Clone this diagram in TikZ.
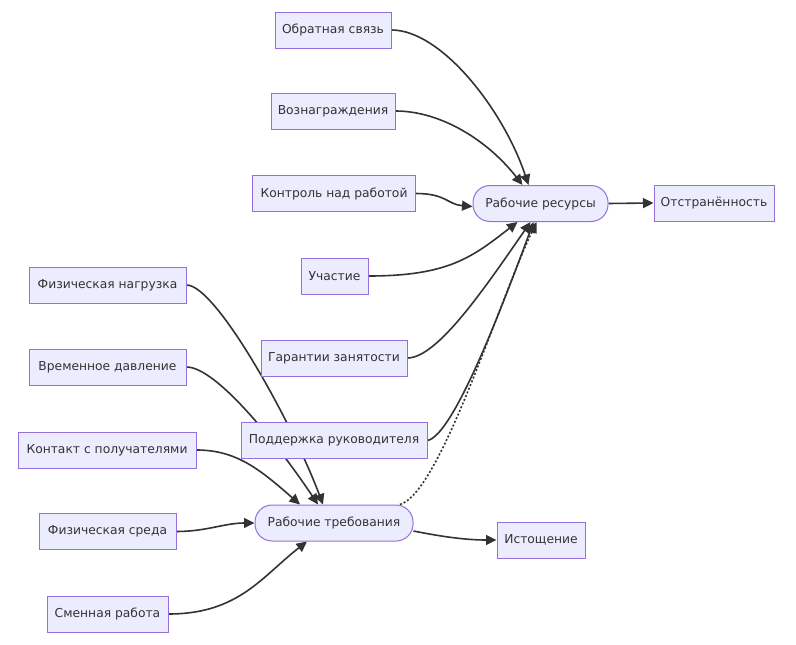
\documentclass[tikz,border=0pt]{standalone}
\usepackage{fontspec}
\setmainfont{DejaVu Sans}
\usetikzlibrary{arrows.meta,backgrounds}
\definecolor{mfill}{HTML}{ECECFF}
\definecolor{mborder}{HTML}{9370DB}
\definecolor{mtext}{HTML}{333333}
\definecolor{medge}{HTML}{333333}
\begin{document}
\begin{tikzpicture}[x=1pt,y=-1pt,
  box/.style={draw=mborder,fill=mfill,line width=1pt,minimum height=36pt,inner sep=0pt,
    font=\fontsize{12.3}{14}\selectfont,text=mtext},
  rbox/.style={box,rounded corners=17pt},
  conn/.style={draw=medge,line width=1.6pt,-{Triangle[length=10.5pt,width=10pt]}},
  dconn/.style={conn,dash pattern=on 2pt off 2pt}]
\useasboundingbox (0,0) rectangle (796,645);

\node[box,minimum width=116pt] (os) at (333,30) {Обратная связь};
\node[box,minimum width=124pt] (vz) at (333,111) {Вознаграждения};
\node[box,minimum width=163pt] (kr) at (334,193.5) {Контроль над работой};
\node[box,minimum width=67pt] (uc) at (334.5,276) {Участие};
\node[box,minimum width=146pt] (gz) at (334,358) {Гарантии занятости};
\node[box,minimum width=186pt] (pr) at (334,440.5) {Поддержка руководителя};
\node[box,minimum width=157pt] (fn) at (107.5,285) {Физическая нагрузка};
\node[box,minimum width=157pt] (vd) at (107.5,367) {Временное давление};
\node[box,minimum width=178pt] (kp) at (107,450) {Контакт с получателями};
\node[box,minimum width=137pt] (fs) at (107.5,531.5) {Физическая среда};
\node[box,minimum width=121pt] (sr) at (107.5,614) {Сменная работа};
\node[rbox,minimum width=158pt] (rt) at (334,523) {Рабочие требования};
\node[box,minimum width=88pt] (is) at (541,540) {Истощение};
\node[rbox,minimum width=135pt] (rr) at (540.5,203.5) {Рабочие ресурсы};
\node[box,minimum width=120pt] (ot) at (714,203) {Отстранённость};

\begin{scope}[on background layer]
\fill[white] (0,0) rectangle (796,645);
\draw[conn] (os.east) .. controls +(50,0) and +(-25,-75) .. ([xshift=-12pt]rr.north);
\draw[conn] (vz.east) .. controls +(45,0) and +(-35,-45) .. ([xshift=-18pt]rr.north);
\draw[conn] (kr.east) .. controls +(30,0) and +(-25,-2) .. ([yshift=-3pt]rr.west);
\draw[conn] (uc.east) .. controls +(80,0) and +(-45,35) .. ([xshift=-23pt]rr.south);
\draw[conn] (gz.east) .. controls +(30,0) and +(-45,65) .. ([xshift=-10pt]rr.south);
\draw[conn] (pr.east) .. controls +(25,-5) and +(-35,95) .. ([xshift=-7pt]rr.south);
\draw[dconn] ([xshift=66pt]rt.north) .. controls +(40,-12) and +(-40,85) .. ([xshift=-4pt]rr.south);
\draw[conn] (rr.east) -- (ot.west);
\draw[conn] (fn.east) .. controls +(30,0) and +(-30,-80) .. ([xshift=-11pt]rt.north);
\draw[conn] (vd.east) .. controls +(30,0) and +(-40,-60) .. ([xshift=-16pt]rt.north);
\draw[conn] (kp.east) .. controls +(40,0) and +(-40,-35) .. ([xshift=-34pt]rt.north);
\draw[conn] (fs.east) .. controls +(30,0) and +(-30,0) .. (rt.west);
\draw[conn] (sr.east) .. controls +(70,0) and +(-45,35) .. ([xshift=-27pt]rt.south);
\draw[conn] ([yshift=-8pt]rt.east) .. controls +(30,6) and +(-30,0) .. (is.west);
\end{scope}
\end{tikzpicture}
\end{document}
